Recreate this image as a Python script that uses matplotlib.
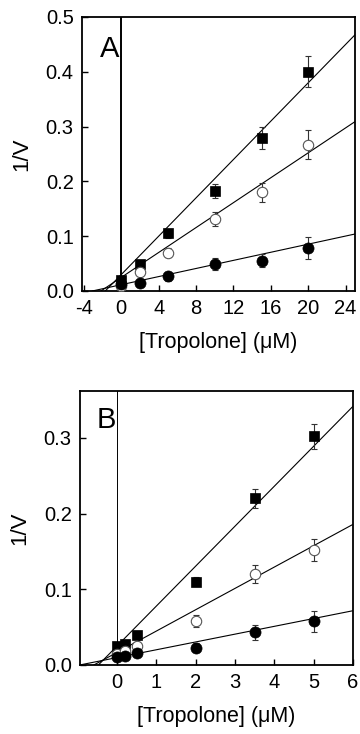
import matplotlib
matplotlib.use("Agg")
import matplotlib.pyplot as plt
import numpy as np

plt.rcParams["font.family"] = ["Liberation Sans", "DejaVu Sans"]
plt.rcParams["axes.unicode_minus"] = False

# Panel A data
a_x = [0, 2, 5, 10, 15, 20]
a_sq = [0.020, 0.050, 0.105, 0.182, 0.280, 0.400]
a_sq_err = [0.004, 0.005, 0.008, 0.013, 0.020, 0.028]
a_open = [0.010, 0.035, 0.070, 0.132, 0.180, 0.267]
a_open_err = [0.004, 0.006, 0.008, 0.013, 0.017, 0.027]
a_fill = [0.012, 0.015, 0.027, 0.050, 0.055, 0.078]
a_fill_err = [0.003, 0.005, 0.008, 0.011, 0.012, 0.020]
a_slopes = [0.0175, 0.01137, 0.0037]
a_ints = [0.030, 0.0248, 0.0115]

# Panel B data
b_x = [0, 0.2, 0.5, 2, 3.5, 5]
b_sq = [0.025, 0.028, 0.040, 0.110, 0.220, 0.302]
b_sq_err = [0.003, 0.004, 0.004, 0.006, 0.012, 0.017]
b_open = [0.015, 0.018, 0.025, 0.058, 0.120, 0.152]
b_open_err = [0.004, 0.004, 0.005, 0.008, 0.012, 0.015]
b_fill = [0.010, 0.012, 0.016, 0.023, 0.043, 0.058]
b_fill_err = [0.003, 0.003, 0.004, 0.006, 0.010, 0.014]
b_slopes = [0.0528, 0.0282, 0.01032]
b_ints = [0.025, 0.0166, 0.0098]

W, H = 360, 734
fig = plt.figure(figsize=(W / 100, H / 100), dpi=100)


def panel(ax, x, series, slopes, ints, xlim, ylim, xticks, yticks, letter, letter_pos, vlw):
    ax.set_xlim(*xlim)
    ax.set_ylim(*ylim)
    ax.axvline(0, color="black", lw=vlw, zorder=1)
    for s, b in zip(slopes, ints):
        x0 = max(xlim[0], -b / s)
        xs = np.array([x0, xlim[1]])
        ax.plot(xs, b + s * xs, color="black", lw=0.8, zorder=2)
    styles = [
        dict(marker="s", ms=7.5, mfc="black", mec="black", mew=0.5),
        dict(marker="o", ms=7.5, mfc="white", mec="#555555", mew=0.8),
        dict(marker="o", ms=8, mfc="black", mec="black", mew=0.5),
    ]
    for (y, err), st in zip(series, styles):
        ax.errorbar(x, y, yerr=err, fmt="none", ecolor="#333333", elinewidth=0.8,
                    capsize=2.5, capthick=0.8, zorder=3)
        ax.plot(x, y, ls="none", zorder=4, **st)
    ax.set_xticks(xticks)
    ax.set_xticklabels([str(t) for t in xticks])
    ax.set_yticks(yticks)
    ax.set_yticklabels([f"{t:.1f}" for t in yticks])
    ax.tick_params(direction="in", length=4, width=1, labelsize=14.5, top=False, right=False)
    ax.tick_params(axis="x", pad=6)
    ax.tick_params(axis="y", pad=6)
    for sp in ax.spines.values():
        sp.set_linewidth(1.3)
    ax.set_xlabel("[Tropolone] (\u03bcM)", fontsize=15.5, labelpad=10)
    ax.set_ylabel("1/V", fontsize=16, labelpad=10)
    ax.text(letter_pos[0], letter_pos[1], letter, transform=ax.transAxes,
            fontsize=21, ha="left", va="baseline")


ax_a = fig.add_axes([82 / W, 1 - 291 / H, 273 / W, 274 / H])
panel(ax_a, a_x,
      [(a_sq, a_sq_err), (a_open, a_open_err), (a_fill, a_fill_err)],
      a_slopes, a_ints, (-4.2, 25), (0, 0.5),
      [-4, 0, 4, 8, 12, 16, 20, 24], [0.0, 0.1, 0.2, 0.3, 0.4, 0.5],
      "A", (0.066, 0.855), 1.4)

ax_b = fig.add_axes([80 / W, 1 - 665 / H, 273 / W, 274 / H])
panel(ax_b, b_x,
      [(b_sq, b_sq_err), (b_open, b_open_err), (b_fill, b_fill_err)],
      b_slopes, b_ints, (-0.94, 6), (0, 0.362),
      [0, 1, 2, 3, 4, 5, 6], [0.0, 0.1, 0.2, 0.3],
      "B", (0.061, 0.864), 0.7)

fig.savefig("out.png", dpi=100)
